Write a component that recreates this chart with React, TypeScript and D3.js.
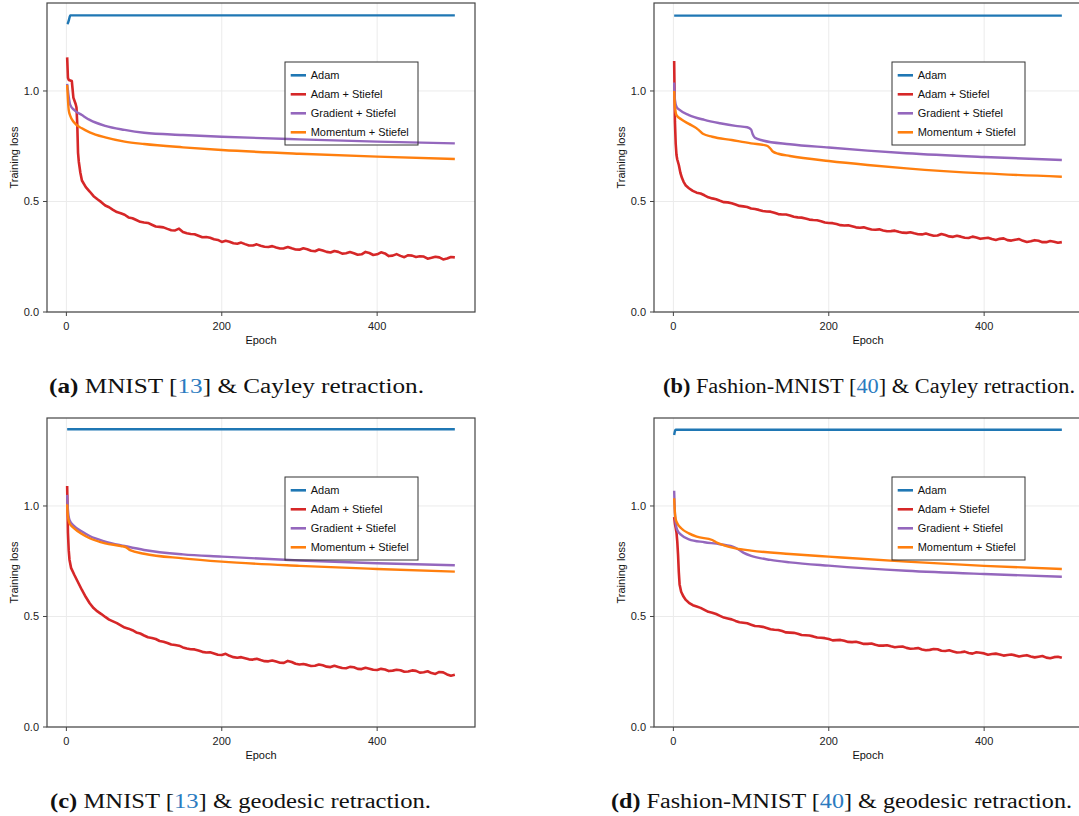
import React from 'react';
import * as d3 from 'd3';

const SERIES_NAMES = ['Adam', 'Adam + Stiefel', 'Gradient + Stiefel', 'Momentum + Stiefel'];
const SERIES_COLORS = ['#1f77b4', '#d62728', '#9467bd', '#ff7f0e'];
const X_TICKS = [0, 200, 400];
const Y_TICKS = [0, 0.5, 1.0];
const Y_TICK_LABELS = ['0.0', '0.5', '1.0'];
const X_LABEL = 'Epoch';
const Y_LABEL = 'Training loss';

const TAIL_EPOCHS = [20, 25, 30, 35, 40, 45, 50, 55, 60, 65, 70, 75, 80, 85, 90, 95, 100, 105, 110, 115, 120,
  125, 130, 135, 140, 145, 150, 155, 160, 165, 170, 175, 180, 185, 190, 195, 200, 205, 210, 215, 220, 225,
  230, 235, 240, 245, 250, 255, 260, 265, 270, 275, 280, 285, 290, 295, 300, 305, 310, 315, 320, 325, 330,
  335, 340, 345, 350, 355, 360, 365, 370, 375, 380, 385, 390, 395, 400, 405, 410, 415, 420, 425, 430, 435,
  440, 445, 450, 455, 460, 465, 470, 475, 480, 485, 490, 495, 500];

// ---- (a) MNIST & Cayley
const A_ADAM_E = [1, 2, 3, 4, 5, 500];
const A_ADAM_V = [1.303, 1.308, 1.318, 1.332, 1.342, 1.342];
const A_RED_HEAD_E = [1, 2, 3, 7, 9, 12, 13, 14, 15, 16, 18];
const A_RED_HEAD_V = [1.152, 1.06, 1.05, 1.045, 0.97, 0.94, 0.925, 0.85, 0.72, 0.68, 0.63];
const A_RED_TAIL_V = [0.595, 0.565, 0.545, 0.524, 0.510, 0.497, 0.482, 0.474, 0.462, 0.452, 0.447, 0.440, 0.428,
  0.424, 0.416, 0.408, 0.405, 0.403, 0.395, 0.387, 0.385, 0.383, 0.376, 0.370, 0.369, 0.377, 0.362, 0.356,
  0.353, 0.352, 0.345, 0.338, 0.339, 0.336, 0.329, 0.326, 0.317, 0.322, 0.318, 0.311, 0.309, 0.314, 0.307,
  0.301, 0.301, 0.306, 0.300, 0.295, 0.294, 0.298, 0.292, 0.287, 0.288, 0.294, 0.288, 0.283, 0.282, 0.288,
  0.284, 0.277, 0.275, 0.283, 0.278, 0.272, 0.269, 0.276, 0.272, 0.264, 0.266, 0.271, 0.266, 0.259, 0.261,
  0.272, 0.267, 0.258, 0.261, 0.270, 0.265, 0.253, 0.255, 0.262, 0.254, 0.248, 0.257, 0.255, 0.249, 0.252,
  0.251, 0.241, 0.245, 0.250, 0.247, 0.238, 0.242, 0.249, 0.247];
const A_GRAD_E = [1, 3, 5, 10, 20, 30, 50, 75, 100, 150, 200, 300, 400, 500];
const A_GRAD_V = [1.032, 0.974, 0.937, 0.914, 0.891, 0.869, 0.842, 0.824, 0.811, 0.801, 0.793, 0.781, 0.771, 0.763];
const A_MOM_E = [1, 3, 5, 10, 20, 30, 50, 75, 100, 150, 200, 300, 400, 500];
const A_MOM_V = [1.027, 0.914, 0.887, 0.857, 0.831, 0.813, 0.790, 0.771, 0.760, 0.745, 0.733, 0.716, 0.703, 0.692];

// ---- (b) Fashion-MNIST & Cayley
const B_ADAM_E = [1, 500];
const B_ADAM_V = [1.341, 1.341];
const B_RED_HEAD_E = [1, 2, 3, 4, 5, 7, 9, 11, 13, 16];
const B_RED_HEAD_V = [1.136, 0.86, 0.76, 0.71, 0.69, 0.665, 0.63, 0.607, 0.59, 0.572];
const B_RED_TAIL_V = [0.560, 0.548, 0.540, 0.536, 0.528, 0.519, 0.514, 0.510, 0.503, 0.497, 0.496, 0.492, 0.486,
  0.480, 0.478, 0.475, 0.468, 0.466, 0.462, 0.457, 0.455, 0.454, 0.449, 0.443, 0.441, 0.441, 0.437, 0.431,
  0.428, 0.427, 0.423, 0.418, 0.416, 0.415, 0.411, 0.405, 0.403, 0.402, 0.398, 0.393, 0.391, 0.392, 0.388,
  0.383, 0.381, 0.383, 0.378, 0.373, 0.372, 0.374, 0.369, 0.365, 0.366, 0.368, 0.363, 0.359, 0.358, 0.361,
  0.356, 0.352, 0.351, 0.355, 0.350, 0.345, 0.346, 0.353, 0.348, 0.342, 0.340, 0.345, 0.341, 0.336, 0.335,
  0.341, 0.337, 0.331, 0.334, 0.336, 0.330, 0.326, 0.331, 0.333, 0.325, 0.323, 0.327, 0.330, 0.322, 0.317,
  0.320, 0.325, 0.322, 0.316, 0.316, 0.321, 0.318, 0.313, 0.316];
const B_GRAD_E = [1, 2, 4, 8, 20, 40, 60, 80, 95, 100, 102, 105, 115, 150, 200, 250, 300, 400, 500];
const B_GRAD_V = [1.038, 0.96, 0.929, 0.914, 0.891, 0.869, 0.854, 0.842, 0.836, 0.826, 0.805, 0.788, 0.776, 0.759,
  0.744, 0.730, 0.718, 0.701, 0.688];
const B_MOM_E = [1, 2, 4, 10, 20, 30, 33, 38, 50, 75, 100, 120, 124, 128, 135, 150, 200, 250, 300, 400, 500];
const B_MOM_V = [1.0, 0.929, 0.891, 0.872, 0.851, 0.831, 0.822, 0.806, 0.793, 0.778, 0.763, 0.753, 0.743, 0.726,
  0.716, 0.706, 0.683, 0.665, 0.650, 0.627, 0.612];

// ---- (c) MNIST & geodesic
const C_ADAM_E = [1, 500];
const C_ADAM_V = [1.347, 1.347];
const C_RED_HEAD_E = [1, 2, 3, 4, 6, 10, 15];
const C_RED_HEAD_V = [1.09, 0.88, 0.80, 0.757, 0.72, 0.69, 0.655];
const C_RED_TAIL_V = [0.620, 0.588, 0.560, 0.538, 0.523, 0.511, 0.498, 0.486, 0.478, 0.470, 0.460, 0.450, 0.445,
  0.438, 0.428, 0.423, 0.414, 0.406, 0.403, 0.398, 0.389, 0.386, 0.380, 0.373, 0.371, 0.368, 0.360, 0.355,
  0.352, 0.351, 0.346, 0.340, 0.337, 0.338, 0.333, 0.327, 0.326, 0.331, 0.322, 0.316, 0.313, 0.316, 0.311,
  0.306, 0.305, 0.309, 0.303, 0.298, 0.297, 0.301, 0.296, 0.291, 0.290, 0.299, 0.294, 0.286, 0.283, 0.285,
  0.281, 0.276, 0.277, 0.283, 0.279, 0.273, 0.271, 0.277, 0.272, 0.267, 0.266, 0.272, 0.270, 0.263, 0.262,
  0.268, 0.264, 0.259, 0.258, 0.263, 0.260, 0.253, 0.255, 0.259, 0.257, 0.250, 0.251, 0.256, 0.254, 0.246,
  0.248, 0.252, 0.244, 0.240, 0.249, 0.247, 0.238, 0.232, 0.236];
const C_GRAD_E = [1, 2, 4, 10, 20, 30, 50, 75, 100, 150, 200, 300, 400, 500];
const C_GRAD_V = [1.05, 0.982, 0.937, 0.909, 0.884, 0.864, 0.839, 0.819, 0.801, 0.781, 0.771, 0.753, 0.741, 0.732];
const C_MOM_E = [1, 2, 4, 10, 20, 30, 50, 70, 77, 82, 100, 150, 200, 300, 400, 500];
const C_MOM_V = [1.008, 0.952, 0.922, 0.899, 0.873, 0.854, 0.831, 0.819, 0.813, 0.800, 0.784, 0.763, 0.748, 0.729,
  0.715, 0.703];

// ---- (d) Fashion-MNIST & geodesic
const D_ADAM_E = [1, 2, 3, 500];
const D_ADAM_V = [1.321, 1.339, 1.345, 1.345];
const D_RED_HEAD_E = [1, 2, 3, 4, 5, 6, 7, 8, 10, 13, 16];
const D_RED_HEAD_V = [0.95, 0.92, 0.90, 0.88, 0.84, 0.78, 0.70, 0.645, 0.612, 0.590, 0.575];
const D_RED_TAIL_V = [0.562, 0.551, 0.545, 0.539, 0.530, 0.521, 0.517, 0.511, 0.503, 0.495, 0.491, 0.487, 0.480,
  0.474, 0.472, 0.469, 0.463, 0.457, 0.456, 0.453, 0.448, 0.442, 0.440, 0.439, 0.434, 0.428, 0.427, 0.426,
  0.422, 0.416, 0.415, 0.414, 0.410, 0.405, 0.404, 0.402, 0.398, 0.392, 0.393, 0.394, 0.390, 0.385, 0.384,
  0.386, 0.381, 0.376, 0.376, 0.378, 0.372, 0.368, 0.368, 0.370, 0.365, 0.361, 0.363, 0.364, 0.358, 0.354,
  0.355, 0.357, 0.351, 0.347, 0.349, 0.353, 0.352, 0.345, 0.344, 0.347, 0.342, 0.337, 0.338, 0.341, 0.335,
  0.332, 0.338, 0.336, 0.333, 0.327, 0.330, 0.332, 0.328, 0.323, 0.326, 0.328, 0.324, 0.319, 0.322, 0.325,
  0.319, 0.315, 0.318, 0.321, 0.314, 0.311, 0.316, 0.318, 0.313];
const D_GRAD_E = [1, 2, 3, 5, 10, 20, 40, 60, 80, 90, 100, 125, 150, 200, 300, 400, 500];
const D_GRAD_V = [1.069, 0.967, 0.922, 0.891, 0.869, 0.849, 0.836, 0.827, 0.811, 0.789, 0.774, 0.756, 0.745, 0.730,
  0.707, 0.692, 0.680];
const D_MOM_E = [1, 2, 3, 5, 10, 20, 30, 50, 55, 65, 80, 100, 150, 200, 300, 400, 500];
const D_MOM_V = [1.035, 0.967, 0.94, 0.922, 0.899, 0.876, 0.861, 0.846, 0.836, 0.822, 0.808, 0.798, 0.783, 0.771,
  0.748, 0.729, 0.715];

type Series = { e: number[]; v: number[]; smooth: boolean };

function panelSeries(adamE, adamV, redHE, redHV, redTV, gradE, gradV, momE, momV): Series[] {
  return [
    { e: adamE, v: adamV, smooth: true },
    { e: redHE.concat(TAIL_EPOCHS), v: redHV.concat(redTV), smooth: false },
    { e: gradE, v: gradV, smooth: true },
    { e: momE, v: momV, smooth: true },
  ];
}

const PANELS = [
  { ox: 0, oy: 0, series: panelSeries(A_ADAM_E, A_ADAM_V, A_RED_HEAD_E, A_RED_HEAD_V, A_RED_TAIL_V, A_GRAD_E, A_GRAD_V, A_MOM_E, A_MOM_V) },
  { ox: 607, oy: 0, series: panelSeries(B_ADAM_E, B_ADAM_V, B_RED_HEAD_E, B_RED_HEAD_V, B_RED_TAIL_V, B_GRAD_E, B_GRAD_V, B_MOM_E, B_MOM_V) },
  { ox: 0, oy: 415, series: panelSeries(C_ADAM_E, C_ADAM_V, C_RED_HEAD_E, C_RED_HEAD_V, C_RED_TAIL_V, C_GRAD_E, C_GRAD_V, C_MOM_E, C_MOM_V) },
  { ox: 607, oy: 415, series: panelSeries(D_ADAM_E, D_ADAM_V, D_RED_HEAD_E, D_RED_HEAD_V, D_RED_TAIL_V, D_GRAD_E, D_GRAD_V, D_MOM_E, D_MOM_V) },
];

const CAPTIONS = [
  { label: '(a)', pre: ' MNIST [', ref: '13', post: '] & Cayley retraction.', x: 49, y: 393, w: 375 },
  { label: '(b)', pre: ' Fashion-MNIST [', ref: '40', post: '] & Cayley retraction.', x: 663, y: 393, w: 412 },
  { label: '(c)', pre: ' MNIST [', ref: '13', post: '] & geodesic retraction.', x: 50, y: 808, w: 381 },
  { label: '(d)', pre: ' Fashion-MNIST [', ref: '40', post: '] & geodesic retraction.', x: 611, y: 808, w: 461 },
];

const SANS = '"Liberation Sans", Arial, Helvetica, sans-serif';

function Panel({ ox, oy, series }: { ox: number; oy: number; series: Series[] }) {
  const left = 47 + ox, right = 475 + ox, top = 3 + oy, bottom = 312 + oy;
  const x = d3.scaleLinear().domain([-24.95, 525.95]).range([left, right]);
  const y = d3.scaleLinear().domain([0, 1.398]).range([bottom, top]);
  const lg = { x0: 285 + ox, y0: 62 + oy, x1: 418 + ox, y1: 145 + oy };
  const clipId = `clip-${ox}-${oy}`;
  return (
    <g>
      <defs>
        <clipPath id={clipId}>
          <rect x={left} y={top} width={right - left} height={bottom - top} />
        </clipPath>
      </defs>
      {X_TICKS.map((t) => (
        <line key={'gx' + t} x1={x(t)} x2={x(t)} y1={top} y2={bottom} stroke="#ebebeb" strokeWidth={1} />
      ))}
      {Y_TICKS.map((t) => (
        <line key={'gy' + t} x1={left} x2={right} y1={y(t)} y2={y(t)} stroke="#ebebeb" strokeWidth={1} />
      ))}
      <rect x={lg.x0} y={lg.y0} width={lg.x1 - lg.x0} height={lg.y1 - lg.y0} fill="#fff" />
      <g clipPath={`url(#${clipId})`}>
        {series.map((s, i) => {
          const pts: [number, number][] = s.e.map((e, j) => [e, s.v[j]]);
          const path = d3.line<[number, number]>()
            .x((d) => x(d[0]))
            .y((d) => y(d[1]))
            .curve(s.smooth ? d3.curveMonotoneX : d3.curveLinear)(pts);
          return <path key={i} d={path || ''} fill="none" stroke={SERIES_COLORS[i]} strokeWidth={s.smooth ? 2.4 : 2.6} strokeLinejoin="round" />;
        })}
      </g>
      <rect x={lg.x0} y={lg.y0} width={lg.x1 - lg.x0} height={lg.y1 - lg.y0} fill="none" stroke="#333" strokeWidth={1} />
      {SERIES_NAMES.map((n, i) => {
        const cy = 75.3 + oy + i * 19;
        return (
          <g key={n}>
            <line x1={290.7 + ox} x2={306 + ox} y1={cy} y2={cy} stroke={SERIES_COLORS[i]} strokeWidth={2.6} />
            <text x={310.7 + ox} y={cy + 4} fontSize={11} fontFamily={SANS} fill="#111">{n}</text>
          </g>
        );
      })}
      <rect x={left} y={top} width={right - left} height={bottom - top} fill="none" stroke="#444" strokeWidth={1.2} />
      {X_TICKS.map((t) => (
        <g key={'tx' + t}>
          <line x1={x(t)} x2={x(t)} y1={bottom} y2={bottom + 4} stroke="#444" strokeWidth={1} />
          <text x={x(t)} y={bottom + 18} textAnchor="middle" fontSize={11} fontFamily={SANS} fill="#222">{t}</text>
        </g>
      ))}
      {Y_TICKS.map((t, i) => (
        <g key={'ty' + t}>
          <line x1={left - 4} x2={left} y1={y(t)} y2={y(t)} stroke="#444" strokeWidth={1} />
          <text x={left - 8} y={y(t) + 4} textAnchor="end" fontSize={11} fontFamily={SANS} fill="#222">{Y_TICK_LABELS[i]}</text>
        </g>
      ))}
      <text x={(left + right) / 2} y={bottom + 31.5} textAnchor="middle" fontSize={11} fontFamily={SANS} fill="#111">{X_LABEL}</text>
      <text transform={`translate(${ox + 17.5},${(top + bottom) / 2}) rotate(-90)`} textAnchor="middle" fontSize={11} fontFamily={SANS} fill="#111">{Y_LABEL}</text>
    </g>
  );
}

export default function App() {
  return (
    <svg width={1079} height={816} style={{ position: 'absolute', left: 0, top: 0, background: '#fff' }}>
      <rect x={0} y={0} width={1079} height={816} fill="#fff" />
      {PANELS.map((p, i) => (
        <Panel key={i} ox={p.ox} oy={p.oy} series={p.series} />
      ))}
      {CAPTIONS.map((c, i) => (
        <text key={i} x={c.x} y={c.y} fontSize={20} fontFamily='"Liberation Serif", "Times New Roman", serif' fill="#111"
          textLength={c.w} lengthAdjust="spacingAndGlyphs">
          <tspan fontWeight="bold">{c.label}</tspan>
          <tspan>{c.pre}</tspan>
          <tspan fill="#2b7bbf">{c.ref}</tspan>
          <tspan>{c.post}</tspan>
        </text>
      ))}
    </svg>
  );
}
